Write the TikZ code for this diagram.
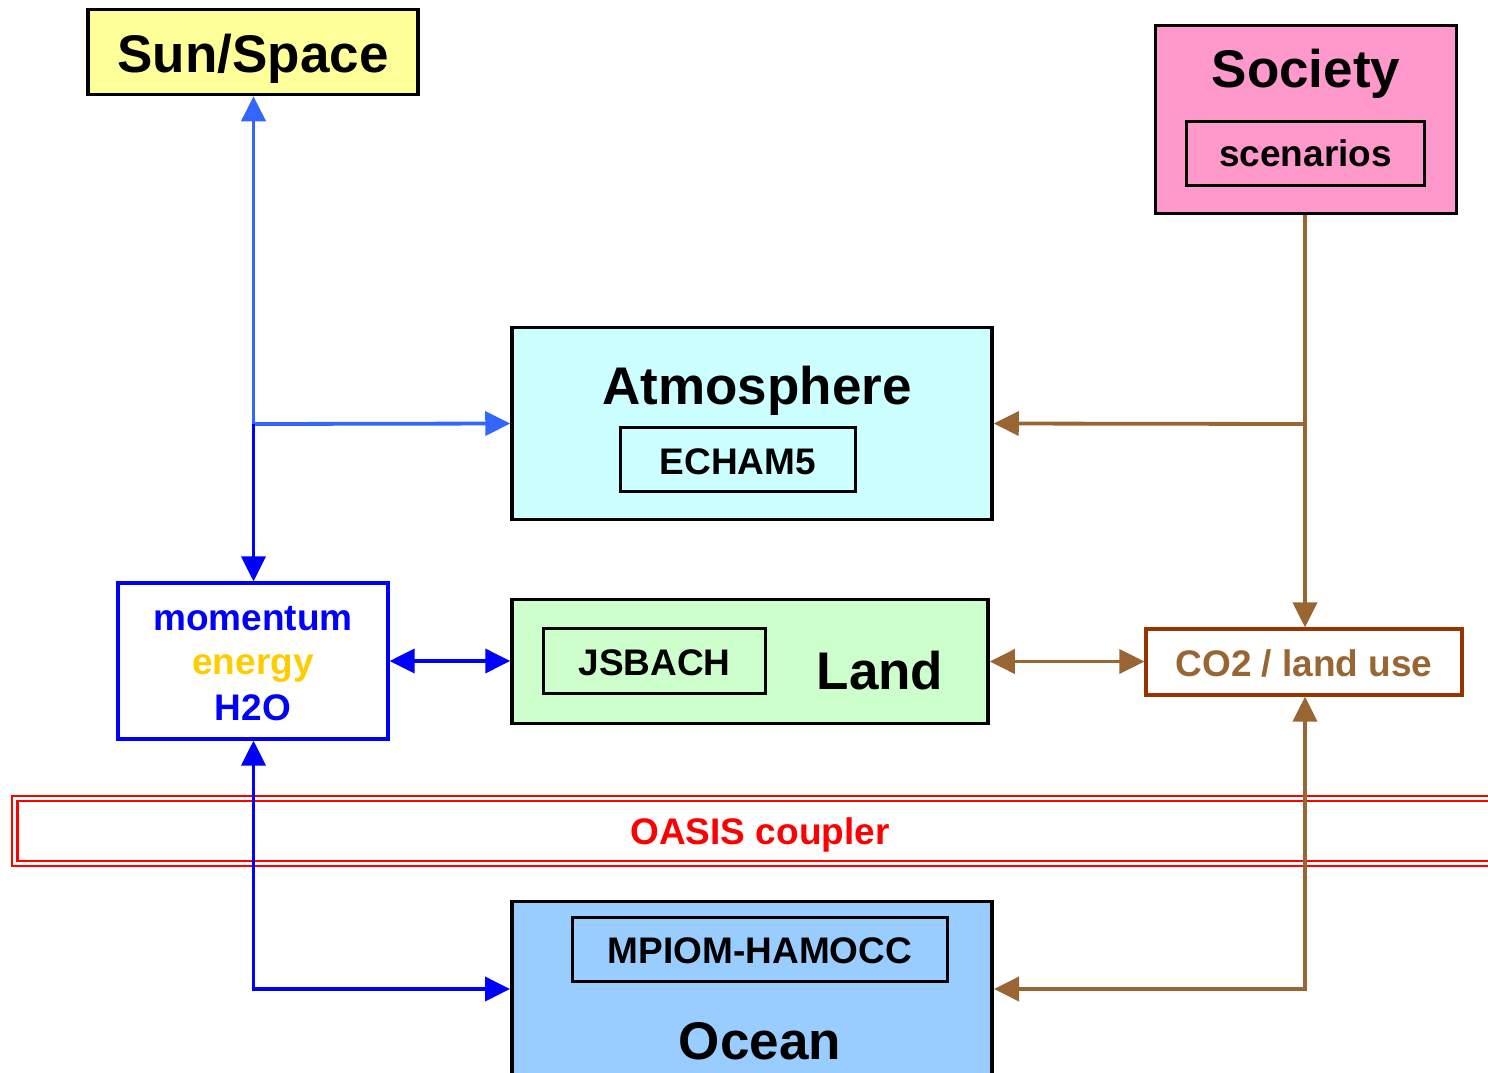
\documentclass[tikz,border=0pt]{standalone}
\usepackage{fontspec}
\setmainfont{Liberation Sans}
\usetikzlibrary{arrows.meta}
\definecolor{sunY}{HTML}{FFFF99}
\definecolor{socP}{HTML}{FF99CC}
\definecolor{atmC}{HTML}{CCFFFF}
\definecolor{landG}{HTML}{CCFFCC}
\definecolor{oceanB}{HTML}{99CCFF}
\definecolor{lblue}{HTML}{3366FF}
\definecolor{dblue}{HTML}{0000FF}
\definecolor{brownL}{HTML}{996633}
\definecolor{brownD}{HTML}{993300}
\definecolor{energyY}{HTML}{FFCC00}
\definecolor{oasisR}{HTML}{FF0000}
\tikzset{
  box/.style={draw=black, line width=3.5pt, inner sep=0pt},
  inbox/.style={draw=black, line width=3.5pt, inner sep=0pt, font=\fontsize{37}{44}\selectfont\bfseries},
  bigtxt/.style={inner sep=0pt, anchor=base, font=\fontsize{53}{60}\selectfont\bfseries},
  smalltxt/.style={inner sep=0pt, anchor=base, font=\fontsize{37}{44}\selectfont\bfseries},
  conn/.style={line width=3.8pt, arrows={-Triangle[length=25pt,width=24pt]}},
  conn2/.style={line width=3.8pt, arrows={Triangle[length=25pt,width=24pt]-Triangle[length=25pt,width=24pt]}},
}
\begin{document}
\begin{tikzpicture}[x=1pt,y=-1pt]
\clip (0,0) rectangle (1488,1073);
\fill[white] (0,0) rectangle (1488,1073);

% OASIS coupler
\draw[oasisR, line width=2.2pt] (12,796) rectangle (1520,866);
\draw[oasisR, line width=2.2pt] (17.5,801) rectangle (1520,861);
\node[smalltxt, text=oasisR] (oasis) at (760,844) {OASIS coupler};

% Boxes
\node[box, fill=sunY, minimum width=330pt, minimum height=85pt] (sun) at (253,52) {};
\node[bigtxt] (suntxt) at (253,72) {Sun/Space};

\node[box, fill=socP, minimum width=301pt, minimum height=188pt] (soc) at (1306,119.5) {};
\node[bigtxt] (soctxt) at (1306,87) {Society};
\node[inbox, minimum width=238pt, minimum height=64pt] (scen) at (1305.5,153.5) {};
\node[smalltxt] (scentxt) at (1305.5,166) {scenarios};

\node[box, fill=atmC, minimum width=480pt, minimum height=192pt] (atm) at (752,423.5) {};
\node[bigtxt] (atmtxt) at (757,404) {Atmosphere};
\node[inbox, minimum width=235pt, minimum height=64pt] (echam) at (738,459.5) {};
\node[smalltxt] (echamtxt) at (738,474) {ECHAM5};

\node[box, fill=landG, minimum width=476pt, minimum height=124pt] (land) at (750,661.5) {};
\node[inbox, minimum width=222pt, minimum height=65pt] (jsb) at (654.5,661) {};
\node[smalltxt] (jsbtxt) at (654.5,675) {JSBACH};
\node[bigtxt] (landtxt) at (880,689) {Land};

\node[draw=dblue, line width=3.2pt, fill=white, inner sep=0pt, minimum width=270pt, minimum height=156pt] (mom) at (253,661) {};
\node[smalltxt, text=dblue] (mom1) at (253,630) {momentum};
\node[smalltxt, text=energyY] (mom2) at (253,674) {energy};
\node[smalltxt, text=dblue] (mom3) at (253,720) {H2O};

\node[draw=brownD, line width=3.2pt, fill=white, inner sep=0pt, minimum width=316pt, minimum height=66pt] (co2) at (1304,662) {};
\node[smalltxt, text=brownL] (co2txt) at (1304,676) {CO2 / land use};

\node[box, fill=oceanB, minimum width=480pt, minimum height=197pt] (ocean) at (752,1000) {};
\node[inbox, minimum width=375pt, minimum height=64pt] (mpiom) at (760,949.5) {};
\node[smalltxt] (mpiomtxt) at (760,963) {MPIOM-HAMOCC};
\node[bigtxt] (oceantxt) at (760,1059) {Ocean};

% junctions
\coordinate (j1) at (253.5,424);
\coordinate (j2) at (1305,424);
\coordinate (oL) at (510,989);
\coordinate (oR) at (994,989);

% blue connectors
\draw[conn, lblue] (j1) -- (sun.south -| j1);
\draw[conn, lblue] (j1) -- (atm.west);
\draw[conn, dblue] (j1) -- (mom.north -| j1);
\draw[conn2, dblue] (mom.east) -- (land.west |- mom.east);
\draw[conn2, dblue] (mom.south -| j1) |- (oL);

% brown connectors
\draw[conn, brownL] (soc.south -| j2) -- (co2.north -| j2);
\draw[conn, brownL] (j2) -- (atm.east);
\draw[conn2, brownL] (land.east) -- (co2.west |- land.east);
\draw[conn2, brownL] (co2.south -| j2) |- (oR);
\end{tikzpicture}
\end{document}
